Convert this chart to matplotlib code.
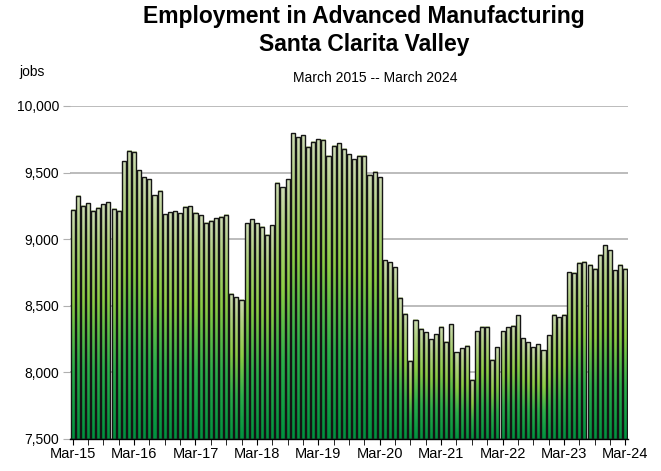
import numpy as np
import matplotlib
matplotlib.use("Agg")
import matplotlib.pyplot as plt
from matplotlib.colors import LinearSegmentedColormap
from matplotlib.ticker import FuncFormatter, MultipleLocator

plt.rcParams['font.family'] = ['Liberation Sans Narrow', 'Liberation Sans', 'DejaVu Sans']

# monthly jobs, Mar-2015 .. Mar-2024
jobs_2015 = [9220, 9325, 9252, 9270, 9212, 9235, 9262, 9277, 9227, 9215]          # Mar-Dec 15
jobs_2016 = [9585, 9665, 9655, 9517, 9465, 9450, 9330, 9362, 9187, 9202, 9210, 9195]
jobs_2017 = [9245, 9247, 9197, 9180, 9122, 9137, 9157, 9168, 9185, 8589, 8564, 8544]
jobs_2018 = [9120, 9150, 9120, 9095, 9032, 9105, 9425, 9390, 9450, 9795, 9765, 9782]
jobs_2019 = [9695, 9732, 9750, 9745, 9625, 9702, 9720, 9680, 9637, 9602, 9627, 9627]
jobs_2020 = [9482, 9505, 9465, 8840, 8827, 8790, 8562, 8441, 8087, 8396, 8327, 8300]
jobs_2021 = [8248, 8285, 8342, 8230, 8361, 8153, 8183, 8200, 7945, 8309, 8342, 8342]
jobs_2022 = [8094, 8188, 8307, 8339, 8351, 8428, 8257, 8228, 8188, 8213, 8166, 8277]
jobs_2023 = [8433, 8413, 8433, 8752, 8747, 8822, 8829, 8809, 8777, 8884, 8953, 8916]
jobs_2024 = [8765, 8809, 8777]                                                     # Jan-Mar 24

jobs = jobs_2015 + jobs_2016 + jobs_2017 + jobs_2018 + jobs_2019 + \
       jobs_2020 + jobs_2021 + jobs_2022 + jobs_2023 + jobs_2024

tick_labels = ['Mar-15', 'Mar-16', 'Mar-17', 'Mar-18', 'Mar-19',
               'Mar-20', 'Mar-21', 'Mar-22', 'Mar-23', 'Mar-24']

ymin, ymax = 7500, 10000
bar_w = 0.8

# per-bar vertical gradient: green at the base, pale at the top
cmap = LinearSegmentedColormap.from_list('bars', [
    (0.0, '#00923f'),
    (0.3, '#2aae4a'),
    (0.6, '#8ccd45'),
    (0.85, '#b3d283'),
    (1.0, '#cddbb3'),
])
grad = np.linspace(0, 1, 128).reshape(-1, 1)

fig = plt.figure(figsize=(6.61, 4.71), dpi=100)
ax = fig.add_axes([0.106, 0.068, 0.844, 0.707])

x = np.arange(len(jobs))
for xi, v in zip(x, jobs):
    ax.imshow(grad, cmap=cmap, origin='lower', aspect='auto',
              extent=[xi - bar_w / 2, xi + bar_w / 2, ymin, v], zorder=2)
ax.bar(x, np.array(jobs) - ymin, bottom=ymin, width=bar_w, fill=False,
       edgecolor='#151515', linewidth=1.0, zorder=3)

ax.set_xlim(-0.5, len(jobs) - 0.5)
ax.set_ylim(ymin, ymax)

# gridlines
ax.yaxis.set_major_locator(MultipleLocator(500))
ax.yaxis.set_major_formatter(FuncFormatter(lambda v, p: '{:,.0f}'.format(v)))
ax.grid(axis='y', color='#b0b0b0', linewidth=1.2, zorder=0)
ax.set_axisbelow(True)
ax.tick_params(axis='y', length=5, color='#b0b0b0', labelsize=10, pad=3)

ax.set_xticks(x[::12])
ax.set_xticklabels(tick_labels)
ax.set_xticks(x[::3], minor=True)
ax.tick_params(axis='x', which='both', length=4, color='black', labelsize=10.5, pad=2)

for s in ['top', 'right', 'left']:
    ax.spines[s].set_visible(False)
ax.spines['bottom'].set_color('black')
ax.spines['bottom'].set_linewidth(1.0)

fig.text(0.551, 0.99, 'Employment in Advanced Manufacturing\nSanta Clarita Valley',
         ha='center', va='top', fontsize=16.5, fontweight='bold', linespacing=1.3)
fig.text(0.567, 0.835, 'March 2015 -- March 2024', ha='center', va='center', fontsize=10)
fig.text(0.048, 0.847, 'jobs', ha='center', va='center', fontsize=10)

fig.savefig('out.png', dpi=100)
